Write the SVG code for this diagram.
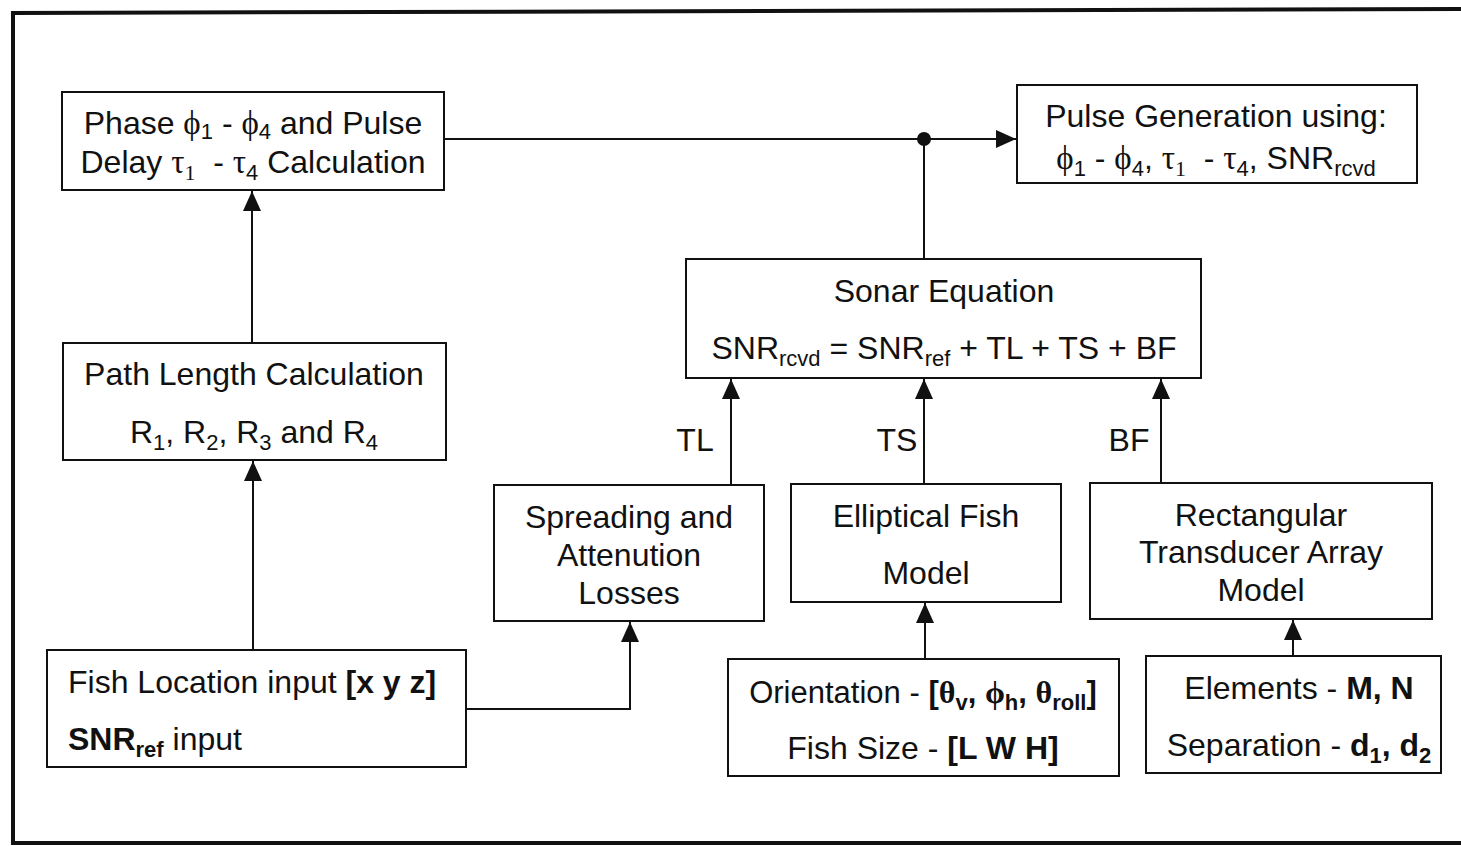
<svg xmlns="http://www.w3.org/2000/svg" width="1461" height="846" viewBox="0 0 1461 846">
  <defs>
    <style>
      .box { fill: #ffffff; stroke: #111; stroke-width: 2; }
      .t { font-family: "Liberation Sans", Arial, sans-serif; font-size: 32px; fill: #111; }
      .b { font-weight: bold; }
      .g { font-family: "Liberation Serif", "Times New Roman", serif; font-size: 33px; }
      .sub { font-size: 22px; }
      .gs { font-family: "Liberation Serif", "Times New Roman", serif; font-size: 22px; }
      .wire { fill: none; stroke: #111; stroke-width: 2; }
    </style>
    <marker id="ah" markerWidth="22" markerHeight="20" refX="20" refY="9" orient="auto" markerUnits="userSpaceOnUse">
      <path d="M0,0 L20,9 L0,18 z" fill="#111"/>
    </marker>
  </defs>

  <rect width="1461" height="846" fill="#ffffff"/>

  <!-- outer frame -->
  <path d="M1465,9 L13,13 L13,843 L1465,843" fill="none" stroke="#111" stroke-width="4"/>

  <!-- connectors -->
  <g id="connectors">
    <path class="wire" d="M445,139 H1016" marker-end="url(#ah)"/>
    <circle cx="924" cy="139" r="7" fill="#111"/>
    <path class="wire" d="M924,259 V139"/>
    <path class="wire" d="M252,343 V191" marker-end="url(#ah)"/>
    <path class="wire" d="M253,650 V461" marker-end="url(#ah)"/>
    <path class="wire" d="M466,709 H630 V622" marker-end="url(#ah)"/>
    <path class="wire" d="M731,485 V379" marker-end="url(#ah)"/>
    <path class="wire" d="M924,484 V379" marker-end="url(#ah)"/>
    <path class="wire" d="M1161,483 V379" marker-end="url(#ah)"/>
    <path class="wire" d="M925,659 V603" marker-end="url(#ah)"/>
    <path class="wire" d="M1293,656 V620" marker-end="url(#ah)"/>
    <text class="t" x="695" y="451" text-anchor="middle">TL</text>
    <text class="t" x="897" y="451" text-anchor="middle">TS</text>
    <text class="t" x="1129" y="451" text-anchor="middle">BF</text>
  </g>

  <g id="phase">
    <rect class="box" x="62" y="92" width="382" height="98"/>
    <text class="t" x="253" y="134" text-anchor="middle">Phase <tspan class="g">ϕ</tspan><tspan class="sub" dy="5">1</tspan><tspan dy="-5"> - </tspan><tspan class="g">ϕ</tspan><tspan class="sub" dy="5">4</tspan><tspan dy="-5"> and Pulse</tspan></text>
    <text class="t" x="253" y="173" text-anchor="middle">Delay <tspan class="g">τ</tspan><tspan class="gs" dy="7">1</tspan><tspan dy="-7">&#160; - </tspan><tspan class="g">τ</tspan><tspan class="sub" dy="7">4</tspan><tspan dy="-7"> Calculation</tspan></text>
  </g>

  <g id="pulse">
    <rect class="box" x="1017" y="85" width="400" height="98"/>
    <text class="t" x="1216" y="127" text-anchor="middle">Pulse Generation using:</text>
    <text class="t" x="1216" y="169" text-anchor="middle"><tspan class="g">ϕ</tspan><tspan class="sub" dy="7">1</tspan><tspan dy="-7"> - </tspan><tspan class="g">ϕ</tspan><tspan class="sub" dy="7">4</tspan><tspan dy="-7">, </tspan><tspan class="g">τ</tspan><tspan class="gs" dy="7">1</tspan><tspan dy="-7">&#160; - </tspan><tspan class="g">τ</tspan><tspan class="sub" dy="7">4</tspan><tspan dy="-7">, SNR</tspan><tspan class="sub" dy="7">rcvd</tspan></text>
  </g>

  <g id="sonar">
    <rect class="box" x="686" y="259" width="515" height="119"/>
    <text class="t" x="944" y="302" text-anchor="middle">Sonar Equation</text>
    <text class="t" x="944" y="359" text-anchor="middle">SNR<tspan class="sub" dy="7">rcvd</tspan><tspan dy="-7"> = SNR</tspan><tspan class="sub" dy="7">ref</tspan><tspan dy="-7"> + TL + TS + BF</tspan></text>
  </g>

  <g id="path-length">
    <rect class="box" x="63" y="343" width="383" height="117"/>
    <text class="t" x="254" y="385" text-anchor="middle">Path Length Calculation</text>
    <text class="t" x="254" y="443" text-anchor="middle">R<tspan class="sub" dy="7">1</tspan><tspan dy="-7">, R</tspan><tspan class="sub" dy="7">2</tspan><tspan dy="-7">, R</tspan><tspan class="sub" dy="7">3</tspan><tspan dy="-7"> and R</tspan><tspan class="sub" dy="7">4</tspan></text>
  </g>

  <g id="spreading">
    <rect class="box" x="494" y="485" width="270" height="136"/>
    <text class="t" x="629" y="528" text-anchor="middle">Spreading and</text>
    <text class="t" x="629" y="566" text-anchor="middle">Attenution</text>
    <text class="t" x="629" y="604" text-anchor="middle">Losses</text>
  </g>

  <g id="fish-model">
    <rect class="box" x="791" y="484" width="270" height="118"/>
    <text class="t" x="926" y="527" text-anchor="middle">Elliptical Fish</text>
    <text class="t" x="926" y="584" text-anchor="middle">Model</text>
  </g>

  <g id="array-model">
    <rect class="box" x="1090" y="483" width="342" height="136"/>
    <text class="t" x="1261" y="526" text-anchor="middle">Rectangular</text>
    <text class="t" x="1261" y="563" text-anchor="middle">Transducer Array</text>
    <text class="t" x="1261" y="601" text-anchor="middle">Model</text>
  </g>

  <g id="fish-input">
    <rect class="box" x="47" y="650" width="419" height="117"/>
    <text class="t" x="68" y="693">Fish Location input <tspan class="b">[x y z]</tspan></text>
    <text class="t" x="68" y="750"><tspan class="b">SNR</tspan><tspan class="sub b" dy="7">ref</tspan><tspan dy="-7"> input</tspan></text>
  </g>

  <g id="orientation">
    <rect class="box" x="728" y="659" width="391" height="117"/>
    <text class="t" x="923" y="703" text-anchor="middle" style="font-size:31px">Orientation - <tspan class="b">[</tspan><tspan class="g b" style="font-size:32px">θ</tspan><tspan class="sub b" dy="7">v</tspan><tspan class="b" dy="-7">, </tspan><tspan class="g b" style="font-size:32px">ϕ</tspan><tspan class="sub b" dy="7">h</tspan><tspan class="b" dy="-7">, </tspan><tspan class="g b" style="font-size:32px">θ</tspan><tspan class="sub b" dy="7">roll</tspan><tspan class="b" dy="-7">]</tspan></text>
    <text class="t" x="923" y="759" text-anchor="middle">Fish Size - <tspan class="b">[L W H]</tspan></text>
  </g>

  <g id="elements">
    <rect class="box" x="1146" y="656" width="295" height="117"/>
    <text class="t" x="1299" y="699" text-anchor="middle">Elements - <tspan class="b">M, N</tspan></text>
    <text class="t" x="1299" y="756" text-anchor="middle">Separation - <tspan class="b">d</tspan><tspan class="sub b" dy="7">1</tspan><tspan class="b" dy="-7">, d</tspan><tspan class="sub b" dy="7">2</tspan></text>
  </g>
</svg>
